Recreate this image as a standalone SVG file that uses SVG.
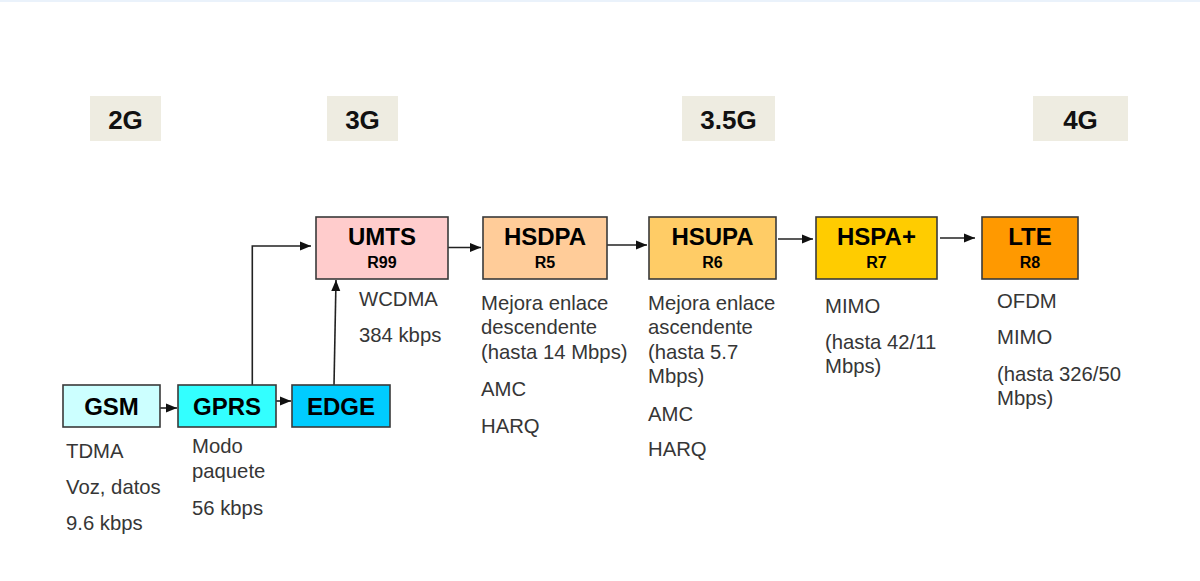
<svg xmlns="http://www.w3.org/2000/svg" width="1200" height="581" viewBox="0 0 1200 581">
<style>
.hdr{fill:#EEECE1}
.ht{font-family:"Liberation Sans",Arial,sans-serif;font-size:26px;font-weight:bold;fill:#111;text-anchor:middle}
.box{stroke:#3a3a3a;stroke-width:1.6}
.t{font-family:"Liberation Sans",Arial,sans-serif;font-size:24px;font-weight:bold;fill:#000;text-anchor:middle}
.r{font-family:"Liberation Sans",Arial,sans-serif;font-size:16px;font-weight:bold;fill:#000;text-anchor:middle}
.d{font-family:"Liberation Sans",Arial,sans-serif;font-size:20.3px;fill:#363636}
.c{fill:none;stroke:#222;stroke-width:1.6}
</style>
<defs>
<marker id="ah" markerUnits="userSpaceOnUse" markerWidth="12" markerHeight="10" refX="11" refY="5" orient="auto">
<path d="M0,0.5 L11,5 L0,9.5 z" fill="#111"/>
</marker>
</defs>
<rect x="0" y="0" width="1200" height="581" fill="#fff"/>
<rect x="0" y="0" width="1200" height="2" fill="#EAF2FB"/>
<g id="hdr-2G"><rect class="hdr" x="90" y="96" width="71" height="45"/><text class="ht" x="125.5" y="129">2G</text></g>
<g id="hdr-3G"><rect class="hdr" x="327" y="96" width="71" height="45"/><text class="ht" x="362.5" y="129">3G</text></g>
<g id="hdr-35G"><rect class="hdr" x="682" y="96" width="93" height="45"/><text class="ht" x="728.5" y="129">3.5G</text></g>
<g id="hdr-4G"><rect class="hdr" x="1033" y="96" width="95" height="45"/><text class="ht" x="1080.5" y="129">4G</text></g>

<g id="connectors">
<line class="c" x1="160" y1="408" x2="177" y2="408" marker-end="url(#ah)"/>
<line class="c" x1="276" y1="401" x2="291" y2="401" marker-end="url(#ah)"/>
<polyline class="c" points="252.3,385 252.3,246 311,246" marker-end="url(#ah)"/>
<line class="c" x1="334" y1="385" x2="336" y2="280" marker-end="url(#ah)"/>
<line class="c" x1="448" y1="247.5" x2="481" y2="247.5" marker-end="url(#ah)"/>
<line class="c" x1="607" y1="245" x2="647" y2="245" marker-end="url(#ah)"/>
<line class="c" x1="778" y1="239" x2="813" y2="239" marker-end="url(#ah)"/>
<line class="c" x1="940" y1="238" x2="975" y2="238" marker-end="url(#ah)"/>
</g>

<g id="GSM">
<rect class="box" x="63" y="385" width="97" height="42" fill="#CCFFFF"/>
<text class="t" x="111.5" y="415">GSM</text>
<text class="d" x="66" y="458">TDMA</text>
<text class="d" x="66" y="494">Voz, datos</text>
<text class="d" x="66" y="530">9.6 kbps</text>
</g>
<g id="GPRS">
<rect class="box" x="178" y="385" width="98" height="42" fill="#33FFFF"/>
<text class="t" x="227" y="415">GPRS</text>
<text class="d" x="192" y="453">Modo</text>
<text class="d" x="192" y="478">paquete</text>
<text class="d" x="192" y="515">56 kbps</text>
</g>
<g id="EDGE">
<rect class="box" x="292" y="385" width="98" height="42" fill="#00CCFF"/>
<text class="t" x="341" y="415">EDGE</text>
</g>
<g id="UMTS">
<rect class="box" x="316" y="217" width="132" height="62" fill="#FFCCCC"/>
<text class="t" x="382" y="245">UMTS</text>
<text class="r" x="382" y="268">R99</text>
<text class="d" x="359" y="306">WCDMA</text>
<text class="d" x="359" y="342">384 kbps</text>
</g>
<g id="HSDPA">
<rect class="box" x="483" y="217" width="124" height="62" fill="#FFCC99"/>
<text class="t" x="545" y="245">HSDPA</text>
<text class="r" x="545" y="268">R5</text>
<text class="d" x="481" y="310">Mejora enlace</text>
<text class="d" x="481" y="334">descendente</text>
<text class="d" x="481" y="359">(hasta 14 Mbps)</text>
<text class="d" x="481" y="396">AMC</text>
<text class="d" x="481" y="433">HARQ</text>
</g>
<g id="HSUPA">
<rect class="box" x="649" y="217" width="127" height="62" fill="#FFCC66"/>
<text class="t" x="712.5" y="245">HSUPA</text>
<text class="r" x="712.5" y="268">R6</text>
<text class="d" x="648" y="310">Mejora enlace</text>
<text class="d" x="648" y="334">ascendente</text>
<text class="d" x="648" y="359">(hasta 5.7</text>
<text class="d" x="648" y="383">Mbps)</text>
<text class="d" x="648" y="421">AMC</text>
<text class="d" x="648" y="456">HARQ</text>
</g>
<g id="HSPAplus">
<rect class="box" x="816" y="217" width="121" height="62" fill="#FFCC00"/>
<text class="t" x="876.5" y="245">HSPA+</text>
<text class="r" x="876.5" y="268">R7</text>
<text class="d" x="825" y="313">MIMO</text>
<text class="d" x="825" y="349">(hasta 42/11</text>
<text class="d" x="825" y="373">Mbps)</text>
</g>
<g id="LTE">
<rect class="box" x="982" y="217" width="96" height="62" fill="#FF9900"/>
<text class="t" x="1030" y="245">LTE</text>
<text class="r" x="1030" y="268">R8</text>
<text class="d" x="997" y="308">OFDM</text>
<text class="d" x="997" y="344">MIMO</text>
<text class="d" x="997" y="381">(hasta 326/50</text>
<text class="d" x="997" y="405">Mbps)</text>
</g>
</svg>
